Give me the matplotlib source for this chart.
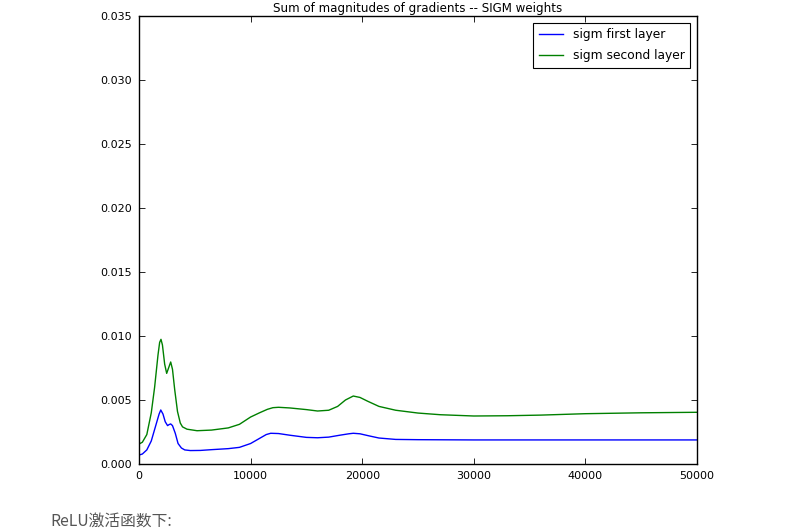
import matplotlib
matplotlib.use("Agg")
import matplotlib.pyplot as plt

title = "Sum of magnitudes of gradients -- SIGM weights"
labels = ["sigm first layer", "sigm second layer"]
xticks = [0, 10000, 20000, 30000, 40000, 50000]
yticks = [0.000, 0.005, 0.010, 0.015, 0.020, 0.025, 0.030, 0.035]

x_first = [0, 300, 700, 1100, 1500, 1800, 1950, 2150, 2350, 2560, 2700, 2840, 3000,
           3250, 3500, 3800, 4100, 4600, 5500, 6500, 8000, 9000, 10000, 10800, 11400,
           11800, 12500, 13500, 15000, 16000, 17000, 18000, 18800, 19200, 19800, 20600,
           21500, 23000, 25000, 30000, 35000, 40000, 45000, 50000]
y_first = [0.0007, 0.00078, 0.0011, 0.0018, 0.0030, 0.0039, 0.00422, 0.0039, 0.0033,
           0.0030, 0.00308, 0.00313, 0.0030, 0.0024, 0.0016, 0.00125, 0.0011, 0.00105,
           0.00106, 0.00112, 0.0012, 0.0013, 0.0016, 0.0020, 0.0023, 0.0024, 0.00238,
           0.00225, 0.00208, 0.00205, 0.0021, 0.00225, 0.00236, 0.0024, 0.00236, 0.0022,
           0.00203, 0.00192, 0.0019, 0.00188, 0.00188, 0.00188, 0.00188, 0.00188]

x_second = [0, 300, 700, 1100, 1400, 1700, 1850, 1970, 2100, 2300, 2480, 2650, 2840,
            3000, 3200, 3450, 3700, 3900, 4300, 5200, 6500, 8000, 9000, 10000, 10800,
            11500, 12000, 12500, 13500, 15000, 16000, 17000, 17800, 18500, 19200, 19800,
            20500, 21500, 23000, 25000, 27000, 30000, 33000, 36000, 40000, 45000, 50000]
y_second = [0.00156, 0.0017, 0.0023, 0.0040, 0.0060, 0.0085, 0.0095, 0.00974, 0.0093,
            0.0078, 0.00708, 0.0075, 0.00797, 0.0074, 0.0058, 0.0041, 0.0032, 0.0029,
            0.00272, 0.0026, 0.00265, 0.00282, 0.0031, 0.00367, 0.0040, 0.00427, 0.0044,
            0.00443, 0.00438, 0.00425, 0.00414, 0.0042, 0.0045, 0.0050, 0.00531, 0.0052,
            0.0049, 0.0045, 0.0042, 0.00398, 0.00385, 0.00375, 0.00377, 0.00382, 0.00393,
            0.004, 0.00404]

fig = plt.figure(figsize=(8.03, 5.29), dpi=100)
ax = fig.add_axes([139/803, 1 - 464/529, (697-139)/803, (464-16)/529])
ax.plot(x_first, y_first, color="#0000ff", lw=1.0, label=labels[0])
ax.plot(x_second, y_second, color="#008000", lw=1.0, label=labels[1])
ax.set_xlim(0, 50000)
ax.set_ylim(0, 0.035)
ax.set_xticks(xticks)
ax.set_xticklabels([str(v) for v in xticks])
ax.set_yticks(yticks)
ax.set_yticklabels([f"{v:.3f}" for v in yticks])
ax.tick_params(direction="in", top=True, right=True, labelsize=8, length=4, width=0.6, pad=5)
for s in ax.spines.values():
    s.set_linewidth(1.0)
ax.set_title(title, fontsize=8.6, pad=3)
leg = ax.legend(loc="upper right", fontsize=8.8, fancybox=False, framealpha=1,
                edgecolor="black", borderaxespad=0.55, handlelength=2.0,
                labelspacing=0.65, borderpad=0.45)
leg.get_frame().set_linewidth(0.8)

fig.text(50/803, 1 - 521/529, "ReLU激活函数下:", fontsize=11.3, color="#555555",
         family=["Noto Sans CJK SC", "DejaVu Sans"], va="center", ha="left")

fig.savefig("out.png", dpi=100)
